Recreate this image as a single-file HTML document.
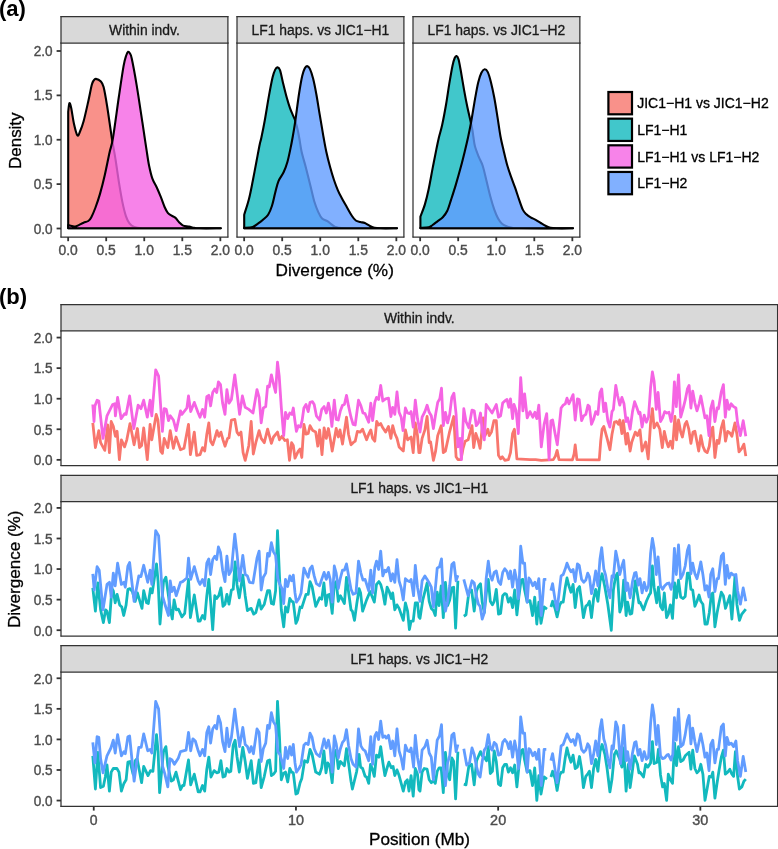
<!DOCTYPE html>
<html lang="en"><head><meta charset="utf-8"><title>Divergence figure</title>
<style>
html,body{margin:0;padding:0;background:#fff;}
body{width:778px;height:849px;overflow:hidden;font-family:"Liberation Sans", sans-serif;}
svg{display:block;font-family:"Liberation Sans", sans-serif;}
</style></head><body>
<svg width="778" height="849" viewBox="0 0 778 849">
<rect width="778" height="849" fill="#fff"/>
<rect x="61.0" y="43.0" width="166.9" height="194.0" fill="#fff"/>
<path d="M68.20,228.30 L68.20,112.00 C68.40,110.53 68.90,103.87 69.40,103.20 C69.90,102.53 70.43,104.53 71.20,108.00 C71.97,111.47 72.97,119.43 74.00,124.00 C75.03,128.57 76.37,134.23 77.40,135.40 C78.43,136.57 79.17,133.35 80.20,131.00 C81.23,128.65 82.25,126.27 83.60,121.30 C84.95,116.33 86.93,107.28 88.30,101.20 C89.67,95.12 90.88,88.28 91.80,84.80 C92.72,81.32 93.12,81.28 93.80,80.30 C94.48,79.32 94.77,78.75 95.90,78.90 C97.03,79.05 99.32,79.83 100.60,81.20 C101.88,82.57 102.52,82.97 103.60,87.10 C104.68,91.23 105.73,97.55 107.10,106.00 C108.47,114.45 110.42,129.03 111.80,137.80 C113.18,146.57 114.22,151.22 115.40,158.60 C116.58,165.98 117.73,174.85 118.90,182.10 C120.07,189.35 121.22,196.40 122.40,202.10 C123.58,207.80 124.82,212.77 126.00,216.30 C127.18,219.83 128.13,221.53 129.50,223.30 C130.87,225.07 132.05,226.08 134.20,226.90 C136.35,227.72 138.10,227.97 142.40,228.20 C146.70,228.43 146.93,228.28 160.00,228.30 C173.07,228.32 210.67,228.30 220.80,228.30 Z" fill="#F8766D" fill-opacity="0.8" stroke="#000" stroke-width="2.1" stroke-linejoin="round"/>
<path d="M68.20,228.30 L68.20,225.10 C68.80,225.25 70.62,225.75 71.80,226.00 C72.98,226.25 74.13,226.75 75.30,226.60 C76.47,226.45 77.42,225.75 78.80,225.10 C80.18,224.45 82.02,223.38 83.60,222.70 C85.18,222.02 87.03,221.88 88.30,221.00 C89.57,220.12 90.03,219.57 91.20,217.40 C92.37,215.23 93.83,211.92 95.30,208.00 C96.77,204.08 98.42,199.40 100.00,193.90 C101.58,188.40 103.22,181.87 104.80,175.00 C106.38,168.13 108.13,158.90 109.50,152.70 C110.87,146.50 111.43,147.17 113.00,137.80 C114.57,128.43 117.13,108.48 118.90,96.50 C120.67,84.52 122.38,72.73 123.60,65.90 C124.82,59.07 125.45,57.85 126.20,55.50 C126.95,53.15 127.47,52.12 128.10,51.80 C128.73,51.48 129.38,52.43 130.00,53.60 C130.62,54.77 130.70,53.60 131.80,58.80 C132.90,64.00 134.83,74.20 136.60,84.80 C138.37,95.40 141.08,113.78 142.40,122.40 C143.72,131.02 143.80,131.83 144.50,136.50 C145.20,141.17 145.83,145.52 146.60,150.40 C147.37,155.28 148.13,161.08 149.10,165.80 C150.07,170.52 151.10,175.05 152.40,178.70 C153.70,182.35 155.52,184.70 156.90,187.70 C158.28,190.70 159.42,193.48 160.70,196.70 C161.98,199.92 163.42,204.32 164.60,207.00 C165.78,209.68 166.63,211.35 167.80,212.80 C168.97,214.25 170.32,214.85 171.60,215.70 C172.88,216.55 174.22,216.78 175.50,217.90 C176.78,219.02 178.02,221.12 179.30,222.40 C180.58,223.68 181.58,224.92 183.20,225.60 C184.82,226.28 187.18,226.13 189.00,226.50 C190.82,226.87 192.38,227.50 194.10,227.80 C195.82,228.10 194.85,228.22 199.30,228.30 C203.75,228.38 217.22,228.30 220.80,228.30 Z" fill="#F564E3" fill-opacity="0.8" stroke="#000" stroke-width="2.1" stroke-linejoin="round"/>
<path d="M61.00,42.50V237.50M227.90,42.50V237.50" stroke="#333333" stroke-width="1.25" fill="none"/>
<path d="M60.50,237.00H228.40" stroke="#333333" stroke-width="1.25" fill="none"/>
<rect x="61.00" y="16.50" width="166.90" height="26.50" fill="#d9d9d9"/>
<path d="M61.00,16.00V43.50M227.90,16.00V43.50" stroke="#333333" stroke-width="1.25" fill="none"/>
<path d="M60.50,16.50H228.40M60.50,43.00H228.40" stroke="#333333" stroke-width="1.25" fill="none"/>
<text x="144.45" y="34.8" font-size="14.0" text-anchor="middle" fill="#1a1a1a" stroke="#1a1a1a" stroke-width="0.3" font-weight="normal" textLength="70.75" lengthAdjust="spacingAndGlyphs">Within indv.</text>
<line x1="68.15" y1="237.0" x2="68.15" y2="241.2" stroke="#333333" stroke-width="1.8"/>
<text x="68.15" y="255.3" font-size="14.0" text-anchor="middle" fill="#4d4d4d" stroke="#4d4d4d" stroke-width="0.4" font-weight="normal" textLength="19.27" lengthAdjust="spacingAndGlyphs">0.0</text>
<line x1="106.20" y1="237.0" x2="106.20" y2="241.2" stroke="#333333" stroke-width="1.8"/>
<text x="106.2" y="255.3" font-size="14.0" text-anchor="middle" fill="#4d4d4d" stroke="#4d4d4d" stroke-width="0.4" font-weight="normal" textLength="19.27" lengthAdjust="spacingAndGlyphs">0.5</text>
<line x1="144.25" y1="237.0" x2="144.25" y2="241.2" stroke="#333333" stroke-width="1.8"/>
<text x="144.25" y="255.3" font-size="14.0" text-anchor="middle" fill="#4d4d4d" stroke="#4d4d4d" stroke-width="0.4" font-weight="normal" textLength="19.27" lengthAdjust="spacingAndGlyphs">1.0</text>
<line x1="182.30" y1="237.0" x2="182.30" y2="241.2" stroke="#333333" stroke-width="1.8"/>
<text x="182.3" y="255.3" font-size="14.0" text-anchor="middle" fill="#4d4d4d" stroke="#4d4d4d" stroke-width="0.4" font-weight="normal" textLength="19.27" lengthAdjust="spacingAndGlyphs">1.5</text>
<line x1="220.35" y1="237.0" x2="220.35" y2="241.2" stroke="#333333" stroke-width="1.8"/>
<text x="220.35" y="255.3" font-size="14.0" text-anchor="middle" fill="#4d4d4d" stroke="#4d4d4d" stroke-width="0.4" font-weight="normal" textLength="19.27" lengthAdjust="spacingAndGlyphs">2.0</text>
<rect x="237.0" y="43.0" width="166.89999999999998" height="194.0" fill="#fff"/>
<path d="M244.20,228.30 L244.20,214.70 C244.98,212.13 247.48,204.87 248.90,199.30 C250.32,193.73 251.42,187.73 252.70,181.30 C253.98,174.87 255.42,166.92 256.60,160.70 C257.78,154.48 259.00,147.87 259.80,144.00 C260.60,140.13 260.55,141.55 261.40,137.50 C262.25,133.45 263.67,126.52 264.90,119.70 C266.13,112.88 267.52,103.67 268.80,96.60 C270.08,89.53 271.53,81.80 272.60,77.30 C273.67,72.80 274.38,71.25 275.20,69.60 C276.02,67.95 276.70,67.30 277.50,67.40 C278.30,67.50 279.10,67.70 280.00,70.20 C280.90,72.70 281.77,77.80 282.90,82.40 C284.03,87.00 285.62,93.52 286.80,97.80 C287.98,102.08 288.93,105.10 290.00,108.10 C291.07,111.10 292.35,113.77 293.20,115.80 C294.05,117.83 294.35,117.93 295.10,120.30 C295.85,122.67 296.95,126.72 297.70,130.00 C298.45,133.28 298.95,136.38 299.60,140.00 C300.25,143.62 300.52,146.97 301.60,151.70 C302.68,156.43 304.60,162.62 306.10,168.40 C307.60,174.18 309.22,180.83 310.60,186.40 C311.98,191.97 313.12,197.52 314.40,201.80 C315.68,206.08 317.02,209.32 318.30,212.10 C319.58,214.88 320.58,216.98 322.10,218.50 C323.62,220.02 325.85,220.23 327.40,221.20 C328.95,222.17 330.08,223.35 331.40,224.30 C332.72,225.25 333.58,226.27 335.30,226.90 C337.02,227.53 337.58,227.87 341.70,228.10 C345.82,228.33 350.78,228.27 360.00,228.30 C369.22,228.33 390.83,228.30 397.00,228.30 Z" fill="#12B9BE" fill-opacity="0.8" stroke="#000" stroke-width="2.1" stroke-linejoin="round"/>
<path d="M244.20,228.30 L244.20,227.80 C245.62,227.65 250.42,227.58 252.70,226.90 C254.98,226.22 256.18,224.88 257.90,223.70 C259.62,222.52 261.30,221.30 263.00,219.80 C264.70,218.30 266.60,217.05 268.10,214.70 C269.60,212.35 270.82,209.35 272.00,205.70 C273.18,202.05 274.13,196.87 275.20,192.80 C276.27,188.73 277.00,184.72 278.40,181.30 C279.80,177.88 282.10,175.52 283.60,172.30 C285.10,169.08 286.23,166.07 287.40,162.00 C288.57,157.93 289.75,151.90 290.60,147.90 C291.45,143.90 291.75,142.27 292.50,138.00 C293.25,133.73 294.02,129.63 295.10,122.30 C296.18,114.97 297.82,101.72 299.00,94.00 C300.18,86.28 301.23,80.28 302.20,76.00 C303.17,71.72 303.98,69.95 304.80,68.30 C305.62,66.65 306.25,66.00 307.10,66.10 C307.95,66.20 308.90,66.82 309.90,68.90 C310.90,70.98 312.03,74.42 313.10,78.60 C314.17,82.78 315.23,88.22 316.30,94.00 C317.37,99.78 318.53,107.52 319.50,113.30 C320.47,119.08 321.42,124.67 322.10,128.70 C322.78,132.73 322.90,133.67 323.60,137.50 C324.30,141.33 325.22,146.77 326.30,151.70 C327.38,156.63 328.82,162.38 330.10,167.10 C331.38,171.82 332.70,176.13 334.00,180.00 C335.30,183.87 336.62,187.30 337.90,190.30 C339.18,193.30 340.22,195.22 341.70,198.00 C343.18,200.78 345.08,204.00 346.80,207.00 C348.52,210.00 350.50,213.75 352.00,216.00 C353.50,218.25 354.42,219.50 355.80,220.50 C357.18,221.50 358.80,221.58 360.30,222.00 C361.80,222.42 363.18,222.33 364.80,223.00 C366.42,223.67 368.38,225.20 370.00,226.00 C371.62,226.80 372.78,227.42 374.50,227.80 C376.22,228.18 376.55,228.22 380.30,228.30 C384.05,228.38 394.22,228.30 397.00,228.30 Z" fill="#619CFF" fill-opacity="0.8" stroke="#000" stroke-width="2.1" stroke-linejoin="round"/>
<path d="M237.00,42.50V237.50M403.90,42.50V237.50" stroke="#333333" stroke-width="1.25" fill="none"/>
<path d="M236.50,237.00H404.40" stroke="#333333" stroke-width="1.25" fill="none"/>
<rect x="237.00" y="16.50" width="166.90" height="26.50" fill="#d9d9d9"/>
<path d="M237.00,16.00V43.50M403.90,16.00V43.50" stroke="#333333" stroke-width="1.25" fill="none"/>
<path d="M236.50,16.50H404.40M236.50,43.00H404.40" stroke="#333333" stroke-width="1.25" fill="none"/>
<text x="320.45" y="34.8" font-size="14.0" text-anchor="middle" fill="#1a1a1a" stroke="#1a1a1a" stroke-width="0.3" font-weight="normal" textLength="137.79" lengthAdjust="spacingAndGlyphs">LF1 haps. vs JIC1−H1</text>
<line x1="244.15" y1="237.0" x2="244.15" y2="241.2" stroke="#333333" stroke-width="1.8"/>
<text x="244.15" y="255.3" font-size="14.0" text-anchor="middle" fill="#4d4d4d" stroke="#4d4d4d" stroke-width="0.4" font-weight="normal" textLength="19.27" lengthAdjust="spacingAndGlyphs">0.0</text>
<line x1="282.20" y1="237.0" x2="282.20" y2="241.2" stroke="#333333" stroke-width="1.8"/>
<text x="282.2" y="255.3" font-size="14.0" text-anchor="middle" fill="#4d4d4d" stroke="#4d4d4d" stroke-width="0.4" font-weight="normal" textLength="19.27" lengthAdjust="spacingAndGlyphs">0.5</text>
<line x1="320.25" y1="237.0" x2="320.25" y2="241.2" stroke="#333333" stroke-width="1.8"/>
<text x="320.25" y="255.3" font-size="14.0" text-anchor="middle" fill="#4d4d4d" stroke="#4d4d4d" stroke-width="0.4" font-weight="normal" textLength="19.27" lengthAdjust="spacingAndGlyphs">1.0</text>
<line x1="358.30" y1="237.0" x2="358.30" y2="241.2" stroke="#333333" stroke-width="1.8"/>
<text x="358.3" y="255.3" font-size="14.0" text-anchor="middle" fill="#4d4d4d" stroke="#4d4d4d" stroke-width="0.4" font-weight="normal" textLength="19.27" lengthAdjust="spacingAndGlyphs">1.5</text>
<line x1="396.35" y1="237.0" x2="396.35" y2="241.2" stroke="#333333" stroke-width="1.8"/>
<text x="396.35" y="255.3" font-size="14.0" text-anchor="middle" fill="#4d4d4d" stroke="#4d4d4d" stroke-width="0.4" font-weight="normal" textLength="19.27" lengthAdjust="spacingAndGlyphs">2.0</text>
<rect x="413.0" y="43.0" width="166.85000000000002" height="194.0" fill="#fff"/>
<path d="M420.40,228.30 L420.40,216.60 C421.15,214.57 423.52,209.00 424.90,204.40 C426.28,199.80 427.42,195.00 428.70,189.00 C429.98,183.00 431.32,175.05 432.60,168.40 C433.88,161.75 435.35,154.25 436.40,149.10 C437.45,143.95 437.93,141.55 438.90,137.50 C439.87,133.45 441.00,130.33 442.20,124.80 C443.40,119.27 444.92,111.15 446.10,104.30 C447.28,97.45 448.23,90.13 449.30,83.70 C450.37,77.27 451.60,69.98 452.50,65.70 C453.40,61.42 454.03,59.60 454.70,58.00 C455.37,56.40 455.87,55.88 456.50,56.10 C457.13,56.32 457.78,56.85 458.50,59.30 C459.22,61.75 459.87,65.67 460.80,70.80 C461.73,75.93 463.02,84.10 464.10,90.10 C465.18,96.10 466.23,101.65 467.30,106.80 C468.37,111.95 469.65,117.13 470.50,121.00 C471.35,124.87 471.92,127.33 472.40,130.00 C472.88,132.67 472.97,134.23 473.40,137.00 C473.83,139.77 474.10,143.28 475.00,146.60 C475.90,149.92 477.52,153.70 478.80,156.90 C480.08,160.10 481.40,161.73 482.70,165.80 C484.00,169.87 485.32,176.15 486.60,181.30 C487.88,186.45 489.12,191.98 490.40,196.70 C491.68,201.42 493.02,205.97 494.30,209.60 C495.58,213.23 496.82,216.15 498.10,218.50 C499.38,220.85 500.50,222.37 502.00,223.70 C503.50,225.03 505.43,225.82 507.10,226.50 C508.77,227.18 509.85,227.50 512.00,227.80 C514.15,228.10 509.83,228.22 520.00,228.30 C530.17,228.38 564.17,228.30 573.00,228.30 Z" fill="#12B9BE" fill-opacity="0.8" stroke="#000" stroke-width="2.1" stroke-linejoin="round"/>
<path d="M420.40,228.30 L420.40,227.80 C421.78,227.72 426.67,227.77 428.70,227.30 C430.73,226.83 431.10,226.03 432.60,225.00 C434.10,223.97 436.00,222.38 437.70,221.10 C439.40,219.82 441.20,219.02 442.80,217.30 C444.40,215.58 445.90,213.80 447.30,210.80 C448.70,207.80 449.80,203.58 451.20,199.30 C452.60,195.02 454.10,190.47 455.70,185.10 C457.30,179.73 459.30,172.67 460.80,167.10 C462.30,161.53 463.52,156.55 464.70,151.70 C465.88,146.85 466.83,142.90 467.90,138.00 C468.97,133.10 469.92,128.78 471.10,122.30 C472.28,115.82 473.82,105.75 475.00,99.10 C476.18,92.45 477.13,86.78 478.20,82.40 C479.27,78.02 480.33,74.98 481.40,72.80 C482.47,70.62 483.53,69.42 484.60,69.30 C485.67,69.18 486.73,69.92 487.80,72.10 C488.87,74.28 489.92,78.12 491.00,82.40 C492.08,86.68 493.22,92.02 494.30,97.80 C495.38,103.58 496.47,110.65 497.50,117.10 C498.53,123.55 499.48,130.95 500.50,136.50 C501.52,142.05 502.45,145.52 503.60,150.40 C504.75,155.28 506.12,161.30 507.40,165.80 C508.68,170.30 510.02,173.75 511.30,177.40 C512.58,181.05 513.82,184.05 515.10,187.70 C516.38,191.35 517.72,195.65 519.00,199.30 C520.28,202.95 521.62,207.15 522.80,209.60 C523.98,212.05 524.80,212.72 526.10,214.00 C527.40,215.28 529.00,216.33 530.60,217.30 C532.20,218.27 534.00,218.85 535.70,219.80 C537.40,220.75 539.08,221.97 540.80,223.00 C542.52,224.03 544.38,225.20 546.00,226.00 C547.62,226.80 548.78,227.42 550.50,227.80 C552.22,228.18 552.55,228.22 556.30,228.30 C560.05,228.38 570.22,228.30 573.00,228.30 Z" fill="#619CFF" fill-opacity="0.8" stroke="#000" stroke-width="2.1" stroke-linejoin="round"/>
<path d="M413.00,42.50V237.50M579.85,42.50V237.50" stroke="#333333" stroke-width="1.25" fill="none"/>
<path d="M412.50,237.00H580.35" stroke="#333333" stroke-width="1.25" fill="none"/>
<rect x="413.00" y="16.50" width="166.85" height="26.50" fill="#d9d9d9"/>
<path d="M413.00,16.00V43.50M579.85,16.00V43.50" stroke="#333333" stroke-width="1.25" fill="none"/>
<path d="M412.50,16.50H580.35M412.50,43.00H580.35" stroke="#333333" stroke-width="1.25" fill="none"/>
<text x="496.425" y="34.8" font-size="14.0" text-anchor="middle" fill="#1a1a1a" stroke="#1a1a1a" stroke-width="0.3" font-weight="normal" textLength="137.79" lengthAdjust="spacingAndGlyphs">LF1 haps. vs JIC1−H2</text>
<line x1="420.15" y1="237.0" x2="420.15" y2="241.2" stroke="#333333" stroke-width="1.8"/>
<text x="420.15" y="255.3" font-size="14.0" text-anchor="middle" fill="#4d4d4d" stroke="#4d4d4d" stroke-width="0.4" font-weight="normal" textLength="19.27" lengthAdjust="spacingAndGlyphs">0.0</text>
<line x1="458.20" y1="237.0" x2="458.20" y2="241.2" stroke="#333333" stroke-width="1.8"/>
<text x="458.2" y="255.3" font-size="14.0" text-anchor="middle" fill="#4d4d4d" stroke="#4d4d4d" stroke-width="0.4" font-weight="normal" textLength="19.27" lengthAdjust="spacingAndGlyphs">0.5</text>
<line x1="496.25" y1="237.0" x2="496.25" y2="241.2" stroke="#333333" stroke-width="1.8"/>
<text x="496.25" y="255.3" font-size="14.0" text-anchor="middle" fill="#4d4d4d" stroke="#4d4d4d" stroke-width="0.4" font-weight="normal" textLength="19.27" lengthAdjust="spacingAndGlyphs">1.0</text>
<line x1="534.30" y1="237.0" x2="534.30" y2="241.2" stroke="#333333" stroke-width="1.8"/>
<text x="534.3" y="255.3" font-size="14.0" text-anchor="middle" fill="#4d4d4d" stroke="#4d4d4d" stroke-width="0.4" font-weight="normal" textLength="19.27" lengthAdjust="spacingAndGlyphs">1.5</text>
<line x1="572.35" y1="237.0" x2="572.35" y2="241.2" stroke="#333333" stroke-width="1.8"/>
<text x="572.35" y="255.3" font-size="14.0" text-anchor="middle" fill="#4d4d4d" stroke="#4d4d4d" stroke-width="0.4" font-weight="normal" textLength="19.27" lengthAdjust="spacingAndGlyphs">2.0</text>
<line x1="56.6" y1="228.50" x2="61" y2="228.50" stroke="#333333" stroke-width="1.8"/>
<text x="52.6" y="233.5" font-size="14.0" text-anchor="end" fill="#4d4d4d" stroke="#4d4d4d" stroke-width="0.4" font-weight="normal" textLength="18.88" lengthAdjust="spacingAndGlyphs">0.0</text>
<line x1="56.6" y1="184.12" x2="61" y2="184.12" stroke="#333333" stroke-width="1.8"/>
<text x="52.6" y="189.12" font-size="14.0" text-anchor="end" fill="#4d4d4d" stroke="#4d4d4d" stroke-width="0.4" font-weight="normal" textLength="18.88" lengthAdjust="spacingAndGlyphs">0.5</text>
<line x1="56.6" y1="139.75" x2="61" y2="139.75" stroke="#333333" stroke-width="1.8"/>
<text x="52.6" y="144.75" font-size="14.0" text-anchor="end" fill="#4d4d4d" stroke="#4d4d4d" stroke-width="0.4" font-weight="normal" textLength="18.88" lengthAdjust="spacingAndGlyphs">1.0</text>
<line x1="56.6" y1="95.38" x2="61" y2="95.38" stroke="#333333" stroke-width="1.8"/>
<text x="52.6" y="100.38" font-size="14.0" text-anchor="end" fill="#4d4d4d" stroke="#4d4d4d" stroke-width="0.4" font-weight="normal" textLength="18.88" lengthAdjust="spacingAndGlyphs">1.5</text>
<line x1="56.6" y1="51.00" x2="61" y2="51.00" stroke="#333333" stroke-width="1.8"/>
<text x="52.6" y="56.0" font-size="14.0" text-anchor="end" fill="#4d4d4d" stroke="#4d4d4d" stroke-width="0.4" font-weight="normal" textLength="18.88" lengthAdjust="spacingAndGlyphs">2.0</text>
<text x="334.7" y="275.9" font-size="17.0" text-anchor="middle" fill="#000" stroke="#000" stroke-width="0.3" font-weight="normal" textLength="118.32" lengthAdjust="spacingAndGlyphs">Divergence (%)</text>
<text x="20.9" y="140.7" font-size="17.0" text-anchor="middle" fill="#000" stroke="#000" stroke-width="0.3" font-weight="normal" transform="rotate(-90 20.9 140.7)" textLength="56.4" lengthAdjust="spacingAndGlyphs">Density</text>
<text x="-1.1" y="15.8" font-size="22.0" text-anchor="start" fill="#000" stroke="#000" stroke-width="0" font-weight="bold" textLength="26.89" lengthAdjust="spacingAndGlyphs">(a)</text>
<rect x="608.4" y="92.00" width="23.6" height="22.3" fill="#F8766D" fill-opacity="0.8" stroke="#000" stroke-width="2.2"/>
<text x="637.2" y="108.4" font-size="14.0" text-anchor="start" fill="#000" stroke="#000" stroke-width="0.3" font-weight="normal" textLength="131.5" lengthAdjust="spacingAndGlyphs">JIC1−H1 vs JIC1−H2</text>
<rect x="608.4" y="118.65" width="23.6" height="22.3" fill="#12B9BE" fill-opacity="0.8" stroke="#000" stroke-width="2.2"/>
<text x="637.2" y="135.05" font-size="14.0" text-anchor="start" fill="#000" stroke="#000" stroke-width="0.3" font-weight="normal" textLength="50.2" lengthAdjust="spacingAndGlyphs">LF1−H1</text>
<rect x="608.4" y="145.30" width="23.6" height="22.3" fill="#F564E3" fill-opacity="0.8" stroke="#000" stroke-width="2.2"/>
<text x="637.2" y="161.7" font-size="14.0" text-anchor="start" fill="#000" stroke="#000" stroke-width="0.3" font-weight="normal" textLength="122.17" lengthAdjust="spacingAndGlyphs">LF1−H1 vs LF1−H2</text>
<rect x="608.4" y="171.95" width="23.6" height="22.3" fill="#619CFF" fill-opacity="0.8" stroke="#000" stroke-width="2.2"/>
<text x="637.2" y="188.35" font-size="14.0" text-anchor="start" fill="#000" stroke="#000" stroke-width="0.3" font-weight="normal" textLength="50.2" lengthAdjust="spacingAndGlyphs">LF1−H2</text>
<rect x="61.0" y="330.95" width="716.6" height="134.55" fill="#fff"/>
<path d="M92.8,422.9 L95.4,447.6 L98.8,430.6 L100.6,442.7 L104.8,450.4 L107.7,425.0 L109.4,452.6 L111.2,421.5 L113.3,426.4 L115.4,436.3 L117.1,431.3 L119.4,459.6 L121.4,439.8 L124.6,446.9 L126.8,439.8 L130.0,423.6 L134.1,444.8 L137.4,428.5 L139.5,447.6 L141.6,445.5 L143.7,427.8 L147.3,459.6 L150.1,424.3 L151.8,439.8 L156.2,414.4 L157.9,420.0 L160.7,451.1 L162.4,453.3 L164.2,438.4 L167.8,447.6 L170.2,430.6 L173.4,448.3 L176.0,437.0 L180.5,449.7 L184.0,448.3 L188.5,424.3 L190.4,454.7 L194.3,432.1 L196.7,455.4 L200.0,454.7 L202.5,447.6 L204.7,451.1 L206.8,434.2 L208.8,422.9 L210.6,441.2 L212.7,444.8 L214.8,438.4 L217.0,430.6 L218.8,436.3 L220.9,432.1 L223.0,439.8 L225.0,446.2 L227.6,438.4 L229.0,437.7 L231.4,420.0 L234.8,419.3 L237.0,432.1 L238.9,434.9 L241.0,432.1 L243.1,452.6 L245.2,460.3 L248.8,445.5 L251.2,421.5 L253.3,454.0 L255.8,442.7 L259.1,430.6 L261.2,438.4 L264.3,442.7 L267.6,429.2 L271.4,443.4 L273.5,437.0 L277.5,432.1 L279.5,439.8 L282.0,436.3 L284.8,440.5 L287.4,439.8 L289.5,460.3 L291.6,442.7 L293.3,445.5 L295.0,458.2 L298.3,451.1 L300.1,449.0 L301.8,457.5 L303.9,424.3 L306.0,434.2 L308.2,433.5 L310.0,425.7 L312.8,430.6 L315.7,432.1 L317.8,446.2 L319.6,429.9 L322.0,454.7 L324.1,427.8 L326.3,438.4 L328.4,428.5 L330.2,438.4 L332.2,451.1 L336.2,428.5 L338.3,437.0 L340.0,429.9 L342.5,444.1 L346.5,417.2 L348.5,434.2 L351.0,444.8 L353.1,442.7 L355.2,441.2 L357.4,431.3 L360.2,432.1 L362.6,429.2 L366.6,439.8 L368.7,434.2 L370.8,429.9 L372.6,438.4 L374.8,441.2 L376.7,421.5 L378.6,425.0 L380.7,423.6 L382.8,427.8 L385.6,432.1 L388.5,426.4 L390.9,438.4 L392.7,425.7 L394.8,433.5 L397.0,438.4 L399.1,446.9 L403.3,451.1 L405.4,429.9 L407.6,439.8 L411.1,437.0 L413.2,452.6 L415.3,422.9 L417.5,435.6 L418.9,452.6 L420.0,452.6 L422.1,438.4 L424.9,429.9 L427.1,416.5 L429.2,442.7 L430.6,442.0 L433.4,460.3 L435.6,451.1 L437.7,435.6 L441.2,425.7 L443.3,452.6 L445.4,451.1 L449.7,431.3 L453.7,416.5 L456.1,456.8 L457.9,459.6 L461.0,459.6 L463.1,448.3 L465.2,441.2 L468.1,439.8 L472.0,425.7 L473.7,447.6 L475.8,433.5 L478.0,439.8 L480.1,448.3 L483.2,417.9 L485.0,435.6 L487.9,429.2 L489.3,435.6 L491.4,432.1 L493.9,420.7 L496.3,420.7 L498.5,455.4 L500.6,458.9 L502.3,456.8 L504.8,460.3 L508.4,459.6 L510.5,452.6 L512.6,433.5 L514.4,429.2 L516.9,458.9 L530.0,459.6 L535.7,459.6 L541.3,460.3 L553.3,459.6 L555.4,456.1 L557.1,450.4 L559.0,459.6 L572.4,459.9 L574.1,454.0 L575.2,444.8 L576.9,459.6 L599.3,459.9 L600.7,441.2 L602.1,429.2 L603.8,426.4 L607.1,438.4 L609.9,449.7 L612.0,434.2 L614.4,422.2 L616.5,421.5 L618.4,424.3 L619.8,420.0 L621.9,433.5 L623.3,420.7 L626.1,444.1 L627.6,433.5 L630.1,451.1 L631.8,442.0 L635.3,432.1 L637.5,435.6 L640.0,429.9 L642.1,451.1 L645.7,442.0 L648.2,458.9 L650.6,422.9 L652.4,408.7 L654.1,427.8 L657.0,422.9 L659.8,429.2 L662.3,447.6 L664.3,431.3 L666.9,442.7 L668.3,446.9 L670.4,441.2 L672.5,448.3 L674.9,416.5 L676.5,439.8 L678.5,420.0 L680.7,432.1 L682.4,437.0 L685.0,424.3 L686.7,421.5 L688.8,429.2 L690.9,443.4 L693.0,432.1 L694.9,431.3 L697.0,442.0 L698.7,451.1 L700.8,435.6 L702.9,446.2 L705.0,451.1 L707.2,452.6 L709.3,446.2 L711.4,429.9 L712.8,427.1 L714.9,457.5 L717.1,440.5 L718.9,443.4 L721.3,427.8 L723.4,420.7 L725.5,441.2 L727.7,431.3 L729.8,432.8 L731.9,436.3 L735.0,422.9 L736.9,434.2 L739.0,451.9 L741.8,448.3 L743.9,444.1 L745.8,456.1" fill="none" stroke="#F8766D" stroke-width="2.8" stroke-linejoin="round" stroke-linecap="butt"/>
<path d="M92.8,404.5 L94.0,421.5 L94.9,405.9 L97.1,400.2 L98.8,401.0 L103.0,438.4 L107.0,415.8 L112.6,404.5 L114.7,403.8 L115.4,415.8 L117.6,397.4 L121.1,418.6 L124.6,413.7 L126.1,414.4 L129.6,396.0 L133.8,428.5 L138.1,405.2 L140.9,408.7 L143.7,400.2 L147.3,417.2 L150.1,400.2 L151.8,415.8 L155.7,369.8 L158.6,376.2 L162.4,431.3 L164.2,408.7 L166.3,409.4 L168.5,420.7 L170.3,415.8 L173.4,420.0 L176.2,430.6 L180.5,410.8 L181.9,414.4 L186.9,408.0 L188.5,396.0 L190.7,411.6 L194.3,402.4 L198.2,413.0 L200.0,417.2 L202.5,409.4 L204.7,417.2 L206.8,396.7 L208.8,395.3 L210.6,405.9 L212.7,392.5 L214.8,388.9 L216.7,392.5 L218.4,381.9 L220.5,384.7 L222.6,403.1 L225.0,414.4 L226.9,389.6 L229.0,403.1 L231.4,399.5 L234.8,374.8 L237.0,392.5 L239.6,414.4 L242.4,396.0 L245.2,407.3 L248.8,409.4 L253.0,413.0 L257.0,389.6 L259.1,397.4 L261.2,422.9 L263.3,408.0 L265.7,406.6 L267.6,386.1 L269.3,386.8 L271.4,374.8 L273.5,384.0 L275.6,392.5 L277.5,362.1 L279.2,376.2 L281.3,407.3 L283.7,435.6 L285.5,412.3 L287.7,418.6 L289.8,413.0 L291.9,414.4 L293.3,408.0 L295.0,421.5 L296.4,431.3 L298.3,425.7 L300.4,427.1 L302.1,420.7 L303.9,408.0 L306.0,404.5 L308.2,411.6 L310.0,402.4 L312.5,401.7 L314.2,404.5 L316.4,415.8 L319.6,420.0 L321.7,409.4 L324.1,406.6 L326.3,413.0 L328.4,403.1 L330.2,411.6 L331.9,426.4 L334.3,400.2 L336.2,419.3 L338.3,420.0 L340.4,410.8 L342.5,405.2 L344.4,404.5 L346.5,395.3 L348.5,405.9 L351.0,417.2 L353.1,424.3 L355.2,425.0 L358.5,400.2 L360.9,405.9 L363.0,413.0 L365.1,413.7 L368.7,422.2 L370.8,403.1 L372.6,420.7 L374.8,402.4 L376.5,397.4 L378.6,399.5 L380.7,385.4 L382.8,401.0 L385.6,398.8 L388.5,398.1 L390.9,416.5 L392.7,407.3 L394.8,414.4 L397.0,391.8 L399.1,412.3 L401.2,417.2 L403.0,430.6 L405.4,408.0 L407.6,413.0 L409.7,413.7 L411.1,411.6 L413.2,427.1 L415.3,400.2 L417.5,418.6 L420.0,432.1 L422.1,417.2 L424.9,411.6 L427.1,405.2 L429.2,412.3 L431.3,415.8 L433.4,428.5 L435.6,414.4 L437.7,402.4 L439.8,398.8 L441.5,388.2 L443.3,425.7 L445.4,412.3 L447.6,422.9 L449.7,414.4 L451.8,397.4 L453.9,393.2 L456.1,414.4 L457.9,446.9 L460.0,438.4 L461.4,459.6 L463.8,408.7 L466.0,421.5 L468.8,427.8 L472.0,410.1 L474.2,410.8 L476.3,425.7 L478.4,422.9 L480.5,413.0 L482.2,431.3 L484.3,439.8 L486.2,404.5 L488.6,408.0 L492.1,413.0 L496.3,404.5 L498.5,417.2 L500.6,415.8 L502.7,403.1 L504.8,401.0 L507.0,399.5 L508.8,407.3 L510.5,398.8 L512.6,418.6 L514.0,404.5 L516.1,410.8 L518.3,433.5 L520.7,377.6 L522.9,410.8 L524.6,393.9 L527.2,417.9 L530.0,411.6 L532.8,417.2 L534.9,412.3 L536.8,418.6 L538.8,405.2 L541.3,446.9 L544.1,424.3 L546.7,413.7 L549.1,459.6 L550.9,420.7 L552.6,420.0 L555.2,434.2 L557.3,444.8 L561.1,408.0 L563.2,405.2 L565.3,403.8 L567.0,398.1 L568.9,403.8 L571.0,399.5 L573.1,394.6 L575.2,420.0 L577.4,398.8 L579.2,399.5 L581.6,420.7 L583.7,415.8 L585.8,414.4 L588.0,405.2 L589.4,406.6 L591.5,424.3 L593.6,419.3 L595.7,411.6 L597.9,414.4 L600.0,392.5 L601.7,388.9 L603.8,411.6 L605.6,403.1 L607.8,420.7 L609.9,427.1 L612.0,411.6 L613.4,409.4 L615.8,385.4 L617.7,396.0 L619.8,405.2 L621.9,397.4 L624.0,403.8 L626.1,421.5 L627.6,417.9 L630.1,429.2 L632.5,411.6 L634.6,401.7 L636.7,407.3 L638.9,413.7 L640.0,412.3 L642.1,427.1 L644.2,415.1 L646.4,422.2 L648.5,417.2 L650.6,387.5 L652.4,372.0 L654.1,381.2 L656.3,409.4 L658.1,392.5 L660.5,421.5 L662.6,417.9 L664.7,411.6 L666.9,413.0 L669.0,412.3 L671.1,421.5 L672.8,411.6 L674.4,381.9 L676.3,406.6 L678.5,374.8 L680.7,417.2 L683.1,408.7 L685.2,400.2 L687.4,388.9 L689.1,385.4 L690.9,408.0 L692.7,391.1 L694.9,403.1 L697.0,410.8 L699.1,403.8 L700.8,396.0 L702.9,407.3 L705.0,417.9 L706.9,415.8 L709.0,435.6 L710.7,408.7 L712.8,401.0 L714.9,421.5 L717.1,408.0 L718.5,408.7 L721.3,391.8 L723.4,384.7 L725.3,417.2 L727.0,400.2 L729.1,409.4 L731.2,403.8 L733.6,406.6 L735.9,408.0 L737.6,422.9 L740.4,435.6 L743.2,420.7 L745.8,436.3" fill="none" stroke="#F564E3" stroke-width="2.8" stroke-linejoin="round" stroke-linecap="butt"/>
<path d="M61.00,330.45V466.00M777.60,330.45V466.00" stroke="#333333" stroke-width="1.25" fill="none"/>
<path d="M60.50,465.50H778.10" stroke="#333333" stroke-width="1.25" fill="none"/>
<rect x="61.00" y="304.55" width="716.60" height="26.40" fill="#d9d9d9"/>
<path d="M61.00,304.05V331.45M777.60,304.05V331.45" stroke="#333333" stroke-width="1.25" fill="none"/>
<path d="M60.50,304.55H778.10M60.50,330.95H778.10" stroke="#333333" stroke-width="1.25" fill="none"/>
<text x="419.3" y="322.55" font-size="14.0" text-anchor="middle" fill="#1a1a1a" stroke="#1a1a1a" stroke-width="0.3" font-weight="normal" textLength="70.75" lengthAdjust="spacingAndGlyphs">Within indv.</text>
<line x1="56.6" y1="459.85" x2="61" y2="459.85" stroke="#333333" stroke-width="1.8"/>
<text x="52.6" y="465.15" font-size="14.0" text-anchor="end" fill="#4d4d4d" stroke="#4d4d4d" stroke-width="0.4" font-weight="normal" textLength="18.88" lengthAdjust="spacingAndGlyphs">0.0</text>
<line x1="56.6" y1="429.28" x2="61" y2="429.28" stroke="#333333" stroke-width="1.8"/>
<text x="52.6" y="434.58" font-size="14.0" text-anchor="end" fill="#4d4d4d" stroke="#4d4d4d" stroke-width="0.4" font-weight="normal" textLength="18.88" lengthAdjust="spacingAndGlyphs">0.5</text>
<line x1="56.6" y1="398.71" x2="61" y2="398.71" stroke="#333333" stroke-width="1.8"/>
<text x="52.6" y="404.01" font-size="14.0" text-anchor="end" fill="#4d4d4d" stroke="#4d4d4d" stroke-width="0.4" font-weight="normal" textLength="18.88" lengthAdjust="spacingAndGlyphs">1.0</text>
<line x1="56.6" y1="368.14" x2="61" y2="368.14" stroke="#333333" stroke-width="1.8"/>
<text x="52.6" y="373.44" font-size="14.0" text-anchor="end" fill="#4d4d4d" stroke="#4d4d4d" stroke-width="0.4" font-weight="normal" textLength="18.88" lengthAdjust="spacingAndGlyphs">1.5</text>
<line x1="56.6" y1="337.57" x2="61" y2="337.57" stroke="#333333" stroke-width="1.8"/>
<text x="52.6" y="342.87" font-size="14.0" text-anchor="end" fill="#4d4d4d" stroke="#4d4d4d" stroke-width="0.4" font-weight="normal" textLength="18.88" lengthAdjust="spacingAndGlyphs">2.0</text>
<rect x="61.0" y="501.65" width="716.6" height="134.35000000000002" fill="#fff"/>
<path d="M92.8,587.9 L95.4,611.2 L97.8,583.0 L100.6,609.8 L103.4,622.6 L105.6,609.8 L107.0,611.2 L109.4,622.6 L111.9,588.6 L113.3,590.7 L115.2,602.8 L117.1,594.3 L119.7,604.9 L121.8,607.0 L123.7,615.5 L126.1,604.9 L127.9,589.3 L130.0,588.6 L132.4,591.5 L135.2,601.3 L137.4,592.9 L142.0,608.4 L143.7,590.7 L146.6,602.8 L148.3,603.5 L150.5,588.6 L152.2,592.9 L156.5,563.9 L158.1,581.6 L160.0,624.0 L163.5,581.6 L165.9,577.3 L167.8,590.7 L170.2,608.4 L172.3,619.0 L174.1,599.9 L176.2,609.8 L178.4,609.1 L181.9,616.9 L184.7,613.4 L188.5,579.4 L190.4,617.6 L194.3,595.0 L198.2,621.1 L200.0,621.1 L202.5,615.5 L204.7,619.0 L206.8,595.7 L208.8,579.4 L210.6,601.3 L212.7,629.6 L214.8,595.7 L216.7,598.5 L218.8,595.7 L220.9,587.9 L223.0,606.3 L225.0,604.2 L226.9,594.3 L229.0,604.2 L231.4,590.0 L233.2,589.3 L235.1,561.8 L237.0,584.4 L239.3,597.8 L242.8,575.2 L245.2,595.7 L247.4,610.5 L249.5,609.1 L251.2,608.4 L253.7,614.1 L255.8,612.7 L259.1,599.9 L261.2,609.1 L264.3,604.2 L267.6,590.7 L269.6,590.7 L271.4,603.5 L273.5,604.2 L275.6,590.7 L277.5,530.7 L279.5,576.6 L281.3,609.8 L283.7,626.8 L285.5,607.0 L287.7,612.0 L289.8,598.5 L291.6,601.3 L293.3,602.1 L295.9,623.3 L297.6,619.7 L300.1,607.0 L301.8,607.7 L306.0,594.3 L308.2,594.3 L310.0,581.6 L312.1,586.5 L315.7,606.3 L319.6,597.8 L321.7,599.2 L323.9,583.0 L326.0,605.6 L327.7,595.0 L329.8,594.3 L332.2,613.4 L334.3,583.7 L336.2,581.6 L338.3,601.3 L340.4,595.7 L344.4,603.5 L346.5,577.3 L348.5,591.5 L351.0,609.8 L352.4,611.2 L354.5,620.4 L356.7,604.2 L359.1,588.6 L360.6,592.9 L362.6,611.2 L366.6,599.9 L370.1,591.5 L374.3,602.1 L376.5,584.4 L378.9,581.6 L380.7,584.4 L382.8,592.2 L384.9,604.2 L387.1,587.2 L389.2,591.5 L391.3,598.5 L392.7,592.9 L394.8,609.8 L397.0,604.9 L399.1,608.4 L403.3,620.4 L405.4,602.8 L407.6,611.2 L409.4,629.6 L411.1,621.1 L413.2,621.1 L415.3,602.8 L417.5,602.8 L418.9,616.9 L420.0,618.3 L422.8,599.9 L427.1,583.0 L429.2,601.3 L431.3,608.4 L433.4,610.5 L435.3,615.5 L437.2,592.2 L439.1,605.6 L441.2,585.8 L443.3,617.6 L445.4,582.3 L447.6,605.6 L449.7,599.9 L451.8,587.9 L453.7,587.2 L455.6,628.2 L457.9,580.8 M463.8,616.2 L466.0,614.8 L468.8,592.9 L471.6,590.0 L474.2,611.2 L476.6,590.7 L478.7,585.8 L480.5,583.7 L482.2,602.1 L484.3,612.7 L486.5,591.5 L488.3,579.4 L490.3,601.3 L492.4,604.9 L494.2,601.3 L496.3,589.3 L498.5,614.1 L500.6,613.4 L502.7,595.7 L504.8,593.6 L506.5,594.3 L508.4,602.1 L510.5,597.8 L512.6,607.7 L514.7,590.0 L516.9,614.8 L519.0,595.7 L521.1,580.1 L522.9,579.4 L524.6,590.0 L527.2,602.1 L530.0,600.6 L532.5,615.5 L534.7,597.1 L536.8,624.0 L538.8,602.1 L541.0,623.3 L544.1,607.0 L547.0,609.1 M550.9,607.0 L552.6,601.3 L555.2,609.1 L557.1,616.9 L559.7,604.9 L561.4,602.1 L563.2,602.1 L565.3,587.2 L567.0,578.0 L568.9,585.8 L571.0,592.2 L573.1,584.4 L575.2,607.7 L577.4,589.3 L579.5,586.5 L581.6,602.1 L583.4,617.6 L585.8,606.3 L588.0,604.2 L589.4,601.3 L591.5,617.6 L593.6,598.5 L595.7,589.3 L597.9,601.3 L600.0,581.6 L602.1,573.8 L604.9,587.2 L607.8,604.2 L611.3,630.3 L613.4,590.0 L615.5,576.6 L617.4,573.1 L619.8,612.0 L621.9,605.6 L623.7,580.1 L626.1,615.5 L627.6,602.1 L630.1,614.1 L631.8,613.4 L635.3,580.8 L637.5,594.3 L638.9,602.8 L640.0,602.1 L643.5,609.8 L646.4,601.3 L649.2,595.0 L650.6,592.9 L652.4,566.0 L654.1,587.2 L656.7,602.8 L658.4,587.2 L660.5,606.3 L662.6,609.8 L664.3,592.9 L666.6,617.6 L668.3,614.1 L670.4,604.9 L672.5,618.3 L674.6,583.0 L676.5,597.8 L678.5,580.1 L680.7,597.1 L683.1,598.5 L685.2,596.4 L687.4,573.1 L689.1,573.1 L690.9,589.3 L692.7,590.0 L694.9,606.3 L697.0,601.3 L699.1,595.0 L700.8,601.3 L702.9,604.2 L705.0,624.0 L707.2,624.0 L709.3,612.7 L711.4,594.3 L712.8,592.9 L714.9,626.8 L717.1,612.7 L718.9,603.5 L721.3,592.2 L723.4,595.7 L725.5,608.4 L727.7,602.1 L729.8,595.7 L731.9,619.0 L735.0,575.9 L736.9,604.2 L739.4,620.4 L741.8,614.1 L745.8,609.1" fill="none" stroke="#12B9BE" stroke-width="2.8" stroke-linejoin="round" stroke-linecap="butt"/>
<path d="M92.8,573.8 L94.2,590.0 L97.1,566.7 L99.2,570.2 L103.0,609.8 L107.0,584.4 L109.5,582.3 L111.2,597.1 L113.3,573.1 L115.2,585.8 L117.6,563.2 L121.4,584.4 L123.9,582.3 L125.3,587.2 L127.9,566.0 L129.6,562.5 L134.1,601.3 L138.8,575.9 L140.9,576.6 L143.7,565.3 L147.7,582.3 L150.1,570.2 L151.8,584.4 L155.7,530.7 L158.6,535.6 L162.4,595.7 L164.9,604.2 L168.5,615.5 L170.2,580.8 L172.0,591.5 L174.1,587.2 L176.2,595.7 L180.5,582.3 L182.6,581.6 L186.9,578.0 L188.5,558.2 L190.7,579.4 L194.3,566.7 L198.2,580.8 L200.0,584.4 L202.5,579.4 L204.7,585.8 L206.8,563.2 L208.8,558.9 L210.6,574.5 L212.7,559.6 L214.8,556.1 L216.7,559.6 L218.4,546.9 L220.5,552.6 L222.6,570.2 L225.0,581.6 L226.9,556.1 L229.0,574.5 L231.4,570.2 L234.8,534.2 L237.0,553.3 L239.6,580.8 L242.8,555.4 L245.2,574.5 L247.4,575.9 L249.5,582.3 L253.0,583.0 L257.0,558.2 L259.1,551.2 L261.2,590.0 L263.3,577.3 L265.7,573.1 L267.6,553.3 L269.3,556.1 L271.4,542.7 L273.5,551.9 L275.6,555.4 L277.8,578.7 L279.9,584.4 L282.0,588.6 L283.7,603.5 L285.5,579.4 L287.7,586.5 L289.8,575.9 L291.6,580.8 L293.3,575.2 L295.0,592.9 L296.4,602.1 L299.0,598.5 L301.1,592.9 L303.9,568.1 L306.0,573.1 L308.2,577.3 L310.0,568.8 L312.1,566.0 L314.2,575.9 L316.4,583.7 L319.6,585.8 L321.7,579.4 L324.1,572.4 L326.3,579.4 L328.4,572.4 L330.2,579.4 L332.2,602.1 L334.3,566.0 L336.2,573.1 L338.3,588.6 L340.4,578.0 L342.5,570.2 L344.4,570.2 L346.5,563.9 L348.5,575.2 L351.0,589.3 L353.1,594.3 L356.0,592.9 L358.5,561.1 L360.9,573.1 L363.0,580.1 L365.1,579.4 L368.7,590.7 L370.8,570.2 L372.6,592.9 L374.8,567.4 L376.5,561.1 L378.6,569.5 L380.7,551.2 L382.8,575.9 L384.9,570.2 L386.3,571.7 L388.5,567.4 L390.9,580.8 L392.7,573.8 L394.8,582.3 L397.0,559.6 L399.1,580.8 L401.2,587.9 L403.3,599.9 L405.4,578.7 L407.6,580.8 L409.7,581.6 L411.1,579.4 L413.6,595.7 L415.3,565.3 L417.5,587.2 L420.0,601.3 L422.1,580.8 L424.9,575.9 L427.1,579.4 L429.2,583.0 L431.3,587.2 L433.4,607.0 L435.6,585.8 L437.2,568.1 L439.5,566.7 L441.5,558.9 L443.3,595.7 L445.4,611.2 L447.6,601.3 L449.7,585.8 L451.8,564.6 L453.9,562.5 L456.1,580.8 L457.9,575.2 M463.8,579.4 L468.1,595.7 L472.0,580.8 L474.2,583.0 L476.3,595.7 L478.4,604.2 L480.1,606.3 L482.2,619.0 L484.3,612.7 L486.2,578.7 L488.3,561.1 L490.3,575.9 L492.1,580.1 L494.2,572.4 L496.3,571.0 L498.5,581.6 L500.6,584.4 L502.7,572.4 L504.8,568.8 L507.0,571.7 L508.8,578.7 L510.5,571.0 L512.6,587.2 L514.7,570.2 L516.9,581.6 L518.5,598.5 L520.7,546.2 L522.9,563.2 L524.6,563.2 L527.2,602.1 L528.9,578.0 L530.0,579.4 L532.8,585.8 L534.9,582.3 L536.8,588.6 L538.8,578.7 L541.3,615.5 L544.1,579.4 L546.3,579.4 M550.9,590.7 L552.6,583.7 L555.2,600.6 L557.1,609.8 L561.1,575.9 L563.2,574.5 L565.3,568.8 L567.0,563.2 L568.9,568.1 L571.0,571.7 L573.1,569.5 L575.2,581.6 L577.4,563.9 L579.2,565.3 L581.6,579.4 L583.7,582.3 L585.8,580.1 L587.7,573.1 L589.4,576.6 L591.5,593.6 L593.6,584.4 L595.7,571.0 L597.9,585.8 L600.0,558.9 L601.7,547.6 L603.8,568.8 L605.6,575.2 L607.8,588.6 L609.9,597.8 L612.0,575.9 L613.4,577.3 L615.8,551.2 L617.7,560.3 L619.8,574.5 L621.9,566.0 L623.7,560.3 L626.1,590.7 L627.6,583.0 L630.1,597.8 L632.5,581.6 L634.6,573.1 L636.0,572.4 L638.2,585.1 L640.0,578.7 L642.1,592.9 L644.2,582.3 L646.4,590.7 L648.5,585.8 L650.6,553.3 L652.4,538.4 L654.1,548.3 L656.3,574.5 L658.1,556.8 L660.5,585.8 L662.6,589.3 L664.7,585.8 L666.9,583.7 L669.0,583.0 L671.1,589.3 L672.8,581.6 L674.4,548.3 L676.3,574.5 L678.5,544.8 L680.7,578.7 L683.1,573.8 L685.2,566.0 L687.4,550.4 L689.1,545.5 L690.9,573.8 L692.7,563.2 L694.9,573.8 L697.0,578.7 L699.1,570.2 L700.8,561.8 L702.9,574.5 L705.0,590.0 L706.9,585.8 L709.0,597.1 L710.7,574.5 L712.8,568.8 L714.9,591.5 L717.1,578.7 L718.5,578.7 L721.3,556.1 L723.4,553.3 L725.3,584.4 L727.0,565.3 L729.1,578.0 L731.2,573.1 L733.6,575.2 L735.9,574.5 L737.6,590.7 L740.4,604.2 L743.2,587.9 L745.8,601.3" fill="none" stroke="#619CFF" stroke-width="2.8" stroke-linejoin="round" stroke-linecap="butt"/>
<path d="M61.00,501.15V636.50M777.60,501.15V636.50" stroke="#333333" stroke-width="1.25" fill="none"/>
<path d="M60.50,636.00H778.10" stroke="#333333" stroke-width="1.25" fill="none"/>
<rect x="61.00" y="475.30" width="716.60" height="26.35" fill="#d9d9d9"/>
<path d="M61.00,474.80V502.15M777.60,474.80V502.15" stroke="#333333" stroke-width="1.25" fill="none"/>
<path d="M60.50,475.30H778.10M60.50,501.65H778.10" stroke="#333333" stroke-width="1.25" fill="none"/>
<text x="419.3" y="493.25" font-size="14.0" text-anchor="middle" fill="#1a1a1a" stroke="#1a1a1a" stroke-width="0.3" font-weight="normal" textLength="137.79" lengthAdjust="spacingAndGlyphs">LF1 haps. vs JIC1−H1</text>
<line x1="56.6" y1="630.20" x2="61" y2="630.20" stroke="#333333" stroke-width="1.8"/>
<text x="52.6" y="635.5" font-size="14.0" text-anchor="end" fill="#4d4d4d" stroke="#4d4d4d" stroke-width="0.4" font-weight="normal" textLength="18.88" lengthAdjust="spacingAndGlyphs">0.0</text>
<line x1="56.6" y1="599.63" x2="61" y2="599.63" stroke="#333333" stroke-width="1.8"/>
<text x="52.6" y="604.93" font-size="14.0" text-anchor="end" fill="#4d4d4d" stroke="#4d4d4d" stroke-width="0.4" font-weight="normal" textLength="18.88" lengthAdjust="spacingAndGlyphs">0.5</text>
<line x1="56.6" y1="569.06" x2="61" y2="569.06" stroke="#333333" stroke-width="1.8"/>
<text x="52.6" y="574.36" font-size="14.0" text-anchor="end" fill="#4d4d4d" stroke="#4d4d4d" stroke-width="0.4" font-weight="normal" textLength="18.88" lengthAdjust="spacingAndGlyphs">1.0</text>
<line x1="56.6" y1="538.49" x2="61" y2="538.49" stroke="#333333" stroke-width="1.8"/>
<text x="52.6" y="543.79" font-size="14.0" text-anchor="end" fill="#4d4d4d" stroke="#4d4d4d" stroke-width="0.4" font-weight="normal" textLength="18.88" lengthAdjust="spacingAndGlyphs">1.5</text>
<line x1="56.6" y1="507.92" x2="61" y2="507.92" stroke="#333333" stroke-width="1.8"/>
<text x="52.6" y="513.22" font-size="14.0" text-anchor="end" fill="#4d4d4d" stroke="#4d4d4d" stroke-width="0.4" font-weight="normal" textLength="18.88" lengthAdjust="spacingAndGlyphs">2.0</text>
<rect x="61.0" y="672.0" width="716.6" height="134.39999999999998" fill="#fff"/>
<path d="M92.8,755.8 L95.4,789.0 L97.8,752.3 L100.6,787.6 L103.4,786.2 L105.3,777.0 L107.0,765.0 L109.4,791.1 L111.2,772.1 L113.3,768.5 L116.9,768.5 L119.0,772.1 L121.4,791.1 L123.9,783.4 L126.1,779.8 L127.9,762.2 L130.0,761.5 L133.1,774.2 L135.2,760.7 L137.1,758.6 L139.5,771.3 L141.6,782.7 L143.7,766.4 L148.0,775.6 L150.5,770.6 L152.9,771.3 L156.5,734.6 L158.1,751.6 L159.6,792.6 L163.5,751.6 L165.9,746.6 L167.8,765.7 L171.3,781.2 L173.4,779.8 L176.0,772.1 L180.5,789.7 L182.6,785.5 L184.0,785.5 L188.5,760.0 L190.7,784.8 L194.3,774.2 L198.2,791.9 L200.0,791.9 L202.5,785.5 L204.7,791.1 L206.8,769.2 L208.8,757.2 L211.0,777.0 L214.1,770.6 L216.7,772.8 L218.8,772.1 L220.9,760.7 L223.0,777.0 L225.0,776.3 L226.9,768.5 L229.0,772.1 L230.8,771.3 L233.2,745.2 L235.1,740.2 L237.0,756.5 L239.3,772.1 L242.8,747.3 L245.2,761.5 L247.4,778.4 L251.2,760.7 L253.4,783.4 L255.8,782.7 L259.1,760.0 L261.2,787.6 L264.3,776.3 L267.6,760.7 L269.6,760.0 L271.4,775.6 L273.5,774.2 L275.6,771.3 L277.5,701.4 L279.5,737.4 L281.3,779.8 L283.4,773.5 L285.5,772.1 L287.7,782.0 L289.8,768.5 L291.6,772.1 L293.3,772.8 L295.9,794.0 L297.6,793.3 L300.1,782.7 L301.8,778.4 L304.6,760.7 L307.5,762.2 L310.0,749.4 L312.1,754.4 L315.7,772.1 L319.6,774.2 L321.7,767.8 L323.9,750.8 L326.0,772.8 L327.7,762.9 L329.8,765.7 L332.2,782.7 L334.3,753.0 L336.2,750.1 L338.3,768.5 L340.4,761.5 L344.4,765.7 L346.5,748.7 L348.5,762.9 L351.0,781.2 L352.4,789.0 L356.7,771.3 L359.1,754.4 L360.6,767.1 L362.6,768.5 L365.1,776.3 L366.6,777.0 L368.7,783.4 L370.5,764.3 L372.2,768.5 L374.3,776.3 L376.5,755.1 L378.9,757.2 L380.7,746.6 L382.8,762.2 L384.9,775.6 L387.1,767.8 L388.9,762.2 L391.3,767.8 L393.1,766.4 L394.8,775.6 L397.0,769.9 L399.1,775.6 L403.3,791.1 L405.4,782.0 L407.3,779.8 L409.0,791.1 L411.1,775.6 L413.2,796.1 L415.3,768.5 L417.5,774.2 L418.9,789.7 L420.0,791.1 L422.1,772.1 L424.2,768.5 L427.1,769.2 L429.2,779.8 L431.3,782.7 L433.4,780.5 L435.3,783.4 L437.2,771.3 L439.1,767.8 L441.2,767.8 L443.3,792.6 L445.4,752.3 L447.6,774.2 L449.7,779.8 L451.8,757.9 L453.7,761.5 L455.6,798.9 L457.9,751.6 M463.8,784.1 L466.0,784.8 L468.8,766.4 L471.6,764.3 L474.2,784.8 L476.6,760.7 L478.7,755.8 L480.5,751.6 L482.2,755.8 L484.3,757.2 L486.5,760.7 L488.3,746.6 L490.3,773.5 L492.4,771.3 L494.2,750.8 L496.3,761.5 L498.5,784.1 L500.6,785.5 L502.7,767.8 L504.8,764.3 L506.5,764.3 L508.4,772.1 L510.5,767.8 L512.6,772.8 L514.7,765.0 L516.9,786.9 L519.0,765.7 L521.1,750.8 L522.9,749.4 L524.6,760.0 L527.2,772.1 L530.0,770.6 L532.5,785.5 L534.7,767.8 L536.8,800.3 L538.8,775.6 L541.0,794.0 L544.1,777.0 L547.0,779.1 M550.9,777.0 L552.6,771.3 L555.2,779.1 L557.1,790.4 L559.7,774.9 L561.4,772.1 L563.2,772.1 L565.3,757.2 L567.0,748.0 L568.9,755.8 L571.0,762.2 L573.1,755.1 L575.2,768.5 L577.4,767.1 L579.5,756.5 L581.6,769.2 L583.4,787.6 L585.8,776.3 L588.0,773.5 L589.4,771.3 L591.5,787.6 L593.6,768.5 L595.7,759.3 L597.9,771.3 L600.0,751.6 L602.1,744.5 L604.9,754.4 L607.1,768.5 L609.9,791.9 L612.0,779.1 L614.4,754.4 L616.2,750.8 L619.8,759.3 L621.9,767.1 L623.7,748.0 L626.1,791.1 L628.3,764.3 L630.1,787.6 L631.8,775.6 L634.3,755.8 L637.5,764.3 L638.9,772.8 L640.0,772.1 L643.5,777.0 L645.7,764.3 L647.8,767.1 L650.6,762.9 L652.4,741.7 L654.1,763.6 L657.0,762.2 L658.4,749.4 L660.5,774.9 L662.6,786.9 L664.3,783.4 L666.6,800.3 L668.3,774.2 L670.4,779.8 L672.5,783.4 L674.6,743.1 L676.5,765.7 L678.5,746.6 L680.7,761.5 L683.1,760.0 L685.2,755.8 L689.1,752.3 L690.9,769.2 L692.7,750.1 L694.9,768.5 L697.0,772.8 L699.1,770.6 L700.8,764.3 L702.9,774.2 L705.0,800.3 L707.2,788.3 L709.3,776.3 L711.4,777.0 L712.8,772.1 L714.9,798.2 L717.1,782.7 L718.9,771.3 L721.3,757.2 L723.4,750.1 L725.3,774.2 L727.7,772.1 L729.8,769.2 L731.9,774.2 L733.6,776.3 L735.4,751.6 L737.6,776.3 L739.4,789.0 L741.8,786.9 L743.9,781.2 L745.8,779.1" fill="none" stroke="#12B9BE" stroke-width="2.8" stroke-linejoin="round" stroke-linecap="butt"/>
<path d="M92.8,742.4 L94.9,762.9 L97.1,736.7 L98.8,737.4 L100.6,758.6 L103.0,772.8 L107.0,755.8 L110.9,748.0 L113.3,740.2 L115.2,753.0 L117.6,734.6 L121.4,755.8 L123.9,751.6 L125.3,753.7 L127.9,736.7 L129.6,736.0 L134.1,781.2 L138.8,747.3 L141.2,747.3 L143.7,733.9 L147.7,750.8 L150.1,749.4 L151.8,753.0 L155.7,701.4 L158.6,709.1 L162.4,765.7 L164.9,774.2 L167.8,786.9 L169.9,758.6 L172.0,760.0 L174.4,764.3 L178.4,757.9 L180.5,751.6 L186.1,750.1 L188.5,732.5 L190.7,750.8 L192.9,738.8 L195.3,741.0 L198.2,750.8 L200.0,755.8 L202.5,749.4 L204.7,755.8 L206.8,732.5 L208.8,726.8 L210.6,743.1 L212.7,728.9 L214.8,725.4 L216.7,728.9 L218.4,716.2 L220.5,722.6 L222.6,741.7 L225.0,751.6 L226.9,728.2 L229.0,746.6 L231.4,737.4 L234.8,709.1 L237.0,727.5 L239.6,746.6 L242.8,727.5 L245.2,744.5 L247.4,746.6 L249.5,752.3 L251.2,746.6 L253.4,753.7 L257.0,728.9 L259.1,732.5 L261.2,761.5 L263.3,748.7 L265.7,743.1 L267.6,725.4 L269.3,728.2 L271.4,712.7 L273.5,721.9 L275.6,725.4 L277.8,751.6 L279.9,754.4 L282.0,761.5 L283.7,768.5 L285.5,747.3 L287.7,758.6 L289.8,746.6 L291.6,755.1 L293.3,744.5 L295.0,762.9 L296.4,772.1 L299.0,768.5 L301.1,764.3 L303.9,745.2 L306.0,743.1 L308.2,744.5 L310.0,733.2 L312.1,737.4 L314.2,748.7 L316.4,753.7 L319.6,756.5 L321.7,749.4 L324.1,738.8 L326.3,748.0 L328.4,740.2 L330.2,749.4 L332.2,772.1 L334.3,736.0 L336.2,743.8 L338.3,757.9 L340.4,748.7 L342.5,742.4 L344.4,740.2 L346.5,729.6 L348.5,745.2 L351.0,758.6 L353.1,764.3 L356.0,767.1 L358.5,728.9 L360.9,745.9 L363.0,749.4 L365.1,750.8 L368.7,760.7 L370.8,736.7 L372.6,764.3 L374.8,736.0 L376.5,732.5 L378.6,739.5 L380.7,721.2 L382.8,737.4 L384.9,736.0 L386.3,738.1 L388.5,735.3 L390.9,748.7 L392.7,741.0 L394.8,755.8 L397.0,728.9 L399.1,750.8 L401.2,757.9 L403.3,769.2 L405.4,745.2 L407.6,750.8 L409.7,751.6 L411.1,748.0 L413.6,767.1 L415.3,735.3 L417.5,757.2 L420.0,772.1 L422.1,750.1 L424.9,746.6 L427.1,740.2 L429.2,753.0 L431.3,757.2 L433.4,779.8 L435.6,755.8 L437.2,740.2 L439.5,736.0 L441.5,724.7 L443.3,765.7 L445.4,785.5 L447.6,762.9 L449.7,755.8 L451.8,735.3 L453.9,733.2 L456.1,751.6 L457.9,744.5 M463.8,748.7 L466.7,765.0 L469.5,762.9 L472.0,748.0 L474.2,754.4 L476.3,765.7 L478.4,774.2 L480.1,777.0 L482.2,761.5 L484.3,750.1 L486.2,747.3 L488.3,734.6 L490.3,748.0 L492.1,750.1 L494.2,742.4 L496.3,744.5 L498.5,755.1 L500.6,754.4 L502.7,742.4 L504.8,739.5 L507.0,742.4 L508.8,748.7 L510.5,741.7 L512.6,757.2 L514.7,741.0 L516.9,752.3 L518.5,768.5 L520.7,716.9 L522.9,733.2 L524.6,733.2 L527.2,772.1 L528.9,748.7 L530.0,749.4 L532.8,755.8 L534.9,752.3 L536.8,759.3 L538.8,749.4 L541.3,785.5 L544.1,749.4 L546.3,749.4 M550.9,760.7 L552.6,753.7 L555.2,770.6 L557.1,782.7 L561.1,745.9 L563.2,744.5 L565.3,738.8 L567.0,733.9 L568.9,738.1 L571.0,741.7 L573.1,739.5 L575.2,745.2 L577.4,733.9 L579.2,736.0 L581.6,749.4 L583.7,752.3 L585.8,750.1 L587.7,743.8 L589.4,746.6 L591.5,763.6 L593.6,754.4 L595.7,741.0 L597.9,755.8 L600.0,728.9 L601.7,719.7 L603.8,738.8 L605.6,745.2 L607.8,758.6 L609.9,767.8 L612.0,745.9 L613.4,748.7 L615.8,721.9 L617.7,727.5 L620.5,763.6 L623.7,725.4 L626.1,760.7 L627.6,751.6 L630.1,769.2 L632.5,753.0 L634.6,742.4 L636.0,741.7 L638.2,755.1 L640.0,749.4 L642.1,760.7 L644.2,751.6 L646.4,759.3 L648.5,757.2 L650.6,723.3 L652.4,704.9 L654.1,715.5 L656.3,744.5 L658.1,725.4 L660.5,755.8 L662.6,758.6 L664.7,757.9 L666.9,755.1 L668.3,754.4 L671.1,760.0 L672.8,754.4 L674.4,717.6 L676.3,740.2 L678.5,709.1 L680.7,746.6 L683.1,744.5 L685.2,734.6 L687.4,720.4 L689.1,715.5 L690.9,743.8 L692.7,728.2 L694.9,741.7 L697.0,751.6 L699.1,741.7 L700.8,733.9 L702.9,744.5 L705.0,757.2 L706.9,753.0 L709.0,770.6 L710.7,744.5 L712.8,740.2 L714.9,762.9 L717.1,749.4 L718.5,749.4 L721.3,726.8 L723.4,724.0 L725.3,755.8 L727.0,737.4 L729.1,744.5 L731.2,743.1 L733.6,746.6 L735.9,741.0 L737.6,760.7 L740.4,776.3 L743.2,756.5 L745.8,772.1" fill="none" stroke="#619CFF" stroke-width="2.8" stroke-linejoin="round" stroke-linecap="butt"/>
<path d="M61.00,671.50V806.90M777.60,671.50V806.90" stroke="#333333" stroke-width="1.25" fill="none"/>
<path d="M60.50,806.40H778.10" stroke="#333333" stroke-width="1.25" fill="none"/>
<rect x="61.00" y="645.60" width="716.60" height="26.40" fill="#d9d9d9"/>
<path d="M61.00,645.10V672.50M777.60,645.10V672.50" stroke="#333333" stroke-width="1.25" fill="none"/>
<path d="M60.50,645.60H778.10M60.50,672.00H778.10" stroke="#333333" stroke-width="1.25" fill="none"/>
<text x="419.3" y="663.6" font-size="14.0" text-anchor="middle" fill="#1a1a1a" stroke="#1a1a1a" stroke-width="0.3" font-weight="normal" textLength="137.79" lengthAdjust="spacingAndGlyphs">LF1 haps. vs JIC1−H2</text>
<line x1="56.6" y1="800.55" x2="61" y2="800.55" stroke="#333333" stroke-width="1.8"/>
<text x="52.6" y="805.85" font-size="14.0" text-anchor="end" fill="#4d4d4d" stroke="#4d4d4d" stroke-width="0.4" font-weight="normal" textLength="18.88" lengthAdjust="spacingAndGlyphs">0.0</text>
<line x1="56.6" y1="769.98" x2="61" y2="769.98" stroke="#333333" stroke-width="1.8"/>
<text x="52.6" y="775.28" font-size="14.0" text-anchor="end" fill="#4d4d4d" stroke="#4d4d4d" stroke-width="0.4" font-weight="normal" textLength="18.88" lengthAdjust="spacingAndGlyphs">0.5</text>
<line x1="56.6" y1="739.41" x2="61" y2="739.41" stroke="#333333" stroke-width="1.8"/>
<text x="52.6" y="744.71" font-size="14.0" text-anchor="end" fill="#4d4d4d" stroke="#4d4d4d" stroke-width="0.4" font-weight="normal" textLength="18.88" lengthAdjust="spacingAndGlyphs">1.0</text>
<line x1="56.6" y1="708.84" x2="61" y2="708.84" stroke="#333333" stroke-width="1.8"/>
<text x="52.6" y="714.14" font-size="14.0" text-anchor="end" fill="#4d4d4d" stroke="#4d4d4d" stroke-width="0.4" font-weight="normal" textLength="18.88" lengthAdjust="spacingAndGlyphs">1.5</text>
<line x1="56.6" y1="678.27" x2="61" y2="678.27" stroke="#333333" stroke-width="1.8"/>
<text x="52.6" y="683.57" font-size="14.0" text-anchor="end" fill="#4d4d4d" stroke="#4d4d4d" stroke-width="0.4" font-weight="normal" textLength="18.88" lengthAdjust="spacingAndGlyphs">2.0</text>
<line x1="93.75" y1="806.4" x2="93.75" y2="810.6" stroke="#333333" stroke-width="1.8"/>
<text x="93.75" y="824.7" font-size="14.0" text-anchor="middle" fill="#4d4d4d" stroke="#4d4d4d" stroke-width="0.4" font-weight="normal">0</text>
<line x1="295.95" y1="806.4" x2="295.95" y2="810.6" stroke="#333333" stroke-width="1.8"/>
<text x="295.95" y="824.7" font-size="14.0" text-anchor="middle" fill="#4d4d4d" stroke="#4d4d4d" stroke-width="0.4" font-weight="normal" textLength="16.04" lengthAdjust="spacingAndGlyphs">10</text>
<line x1="498.15" y1="806.4" x2="498.15" y2="810.6" stroke="#333333" stroke-width="1.8"/>
<text x="498.15" y="824.7" font-size="14.0" text-anchor="middle" fill="#4d4d4d" stroke="#4d4d4d" stroke-width="0.4" font-weight="normal" textLength="16.04" lengthAdjust="spacingAndGlyphs">20</text>
<line x1="700.35" y1="806.4" x2="700.35" y2="810.6" stroke="#333333" stroke-width="1.8"/>
<text x="700.35" y="824.7" font-size="14.0" text-anchor="middle" fill="#4d4d4d" stroke="#4d4d4d" stroke-width="0.4" font-weight="normal" textLength="16.04" lengthAdjust="spacingAndGlyphs">30</text>
<text x="419.5" y="844.9" font-size="17.0" text-anchor="middle" fill="#000" stroke="#000" stroke-width="0.3" font-weight="normal" textLength="101.15" lengthAdjust="spacingAndGlyphs">Position (Mb)</text>
<text x="20.5" y="569.3" font-size="17.0" text-anchor="middle" fill="#000" stroke="#000" stroke-width="0.3" font-weight="normal" transform="rotate(-90 20.5 569.3)" textLength="117.5" lengthAdjust="spacingAndGlyphs">Divergence (%)</text>
<text x="-1.1" y="303.6" font-size="22.0" text-anchor="start" fill="#000" stroke="#000" stroke-width="0" font-weight="bold" textLength="28.09" lengthAdjust="spacingAndGlyphs">(b)</text>
</svg>
</body></html>
